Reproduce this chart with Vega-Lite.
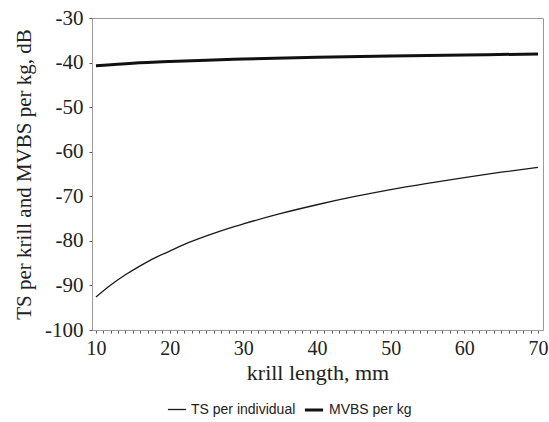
{
  "$schema": "https://vega.github.io/schema/vega-lite/v6.json",
  "autosize": "none",
  "width": 451,
  "height": 312,
  "padding": {"left": 92, "top": 18, "right": 6, "bottom": 92},
  "background": "white",
  "config": {
    "view": {"stroke": "#9a9a9a", "strokeWidth": 1},
    "font": "Liberation Serif"
  },
  "data": {
    "values": [
      {"L": 10, "v": -92.6, "s": "TS per individual"},
      {"L": 12, "v": -89.9, "s": "TS per individual"},
      {"L": 14, "v": -87.6, "s": "TS per individual"},
      {"L": 16, "v": -85.6, "s": "TS per individual"},
      {"L": 18, "v": -83.8, "s": "TS per individual"},
      {"L": 20, "v": -82.3, "s": "TS per individual"},
      {"L": 22, "v": -80.8, "s": "TS per individual"},
      {"L": 25, "v": -78.9, "s": "TS per individual"},
      {"L": 28, "v": -77.2, "s": "TS per individual"},
      {"L": 30, "v": -76.2, "s": "TS per individual"},
      {"L": 35, "v": -73.9, "s": "TS per individual"},
      {"L": 40, "v": -71.9, "s": "TS per individual"},
      {"L": 45, "v": -70.1, "s": "TS per individual"},
      {"L": 50, "v": -68.5, "s": "TS per individual"},
      {"L": 55, "v": -67.1, "s": "TS per individual"},
      {"L": 60, "v": -65.8, "s": "TS per individual"},
      {"L": 65, "v": -64.6, "s": "TS per individual"},
      {"L": 70, "v": -63.5, "s": "TS per individual"},
      {"L": 10, "v": -40.7, "s": "MVBS per kg"},
      {"L": 15, "v": -40.15, "s": "MVBS per kg"},
      {"L": 20, "v": -39.77, "s": "MVBS per kg"},
      {"L": 25, "v": -39.47, "s": "MVBS per kg"},
      {"L": 30, "v": -39.22, "s": "MVBS per kg"},
      {"L": 40, "v": -38.83, "s": "MVBS per kg"},
      {"L": 50, "v": -38.53, "s": "MVBS per kg"},
      {"L": 60, "v": -38.29, "s": "MVBS per kg"},
      {"L": 70, "v": -38.08, "s": "MVBS per kg"}
    ]
  },
  "mark": {"type": "line", "clip": true, "interpolate": "monotone"},
  "encoding": {
    "x": {
      "field": "L",
      "type": "quantitative",
      "scale": {"domain": [9.46, 70.68], "nice": false, "zero": false},
      "axis": {
        "title": "krill length, mm",
        "titleFont": "Liberation Serif",
        "titleFontSize": 22,
        "titleFontWeight": "normal",
        "titleColor": "#222",
        "titlePadding": 4,
        "values": [10,11,12,13,14,15,16,17,18,19,20,21,22,23,24,25,26,27,28,29,30,31,32,33,34,35,36,37,38,39,40,41,42,43,44,45,46,47,48,49,50,51,52,53,54,55,56,57,58,59,60,61,62,63,64,65,66,67,68,69,70],
        "labelExpr": "datum.value % 10 == 0 ? datum.label : ''",
        "labelFont": "Liberation Serif",
        "labelFontSize": 20,
        "labelColor": "#222",
        "labelPadding": 5,
        "labelOverlap": false,
        "tickSize": 3,
        "tickColor": "#555",
        "domainColor": "#9a9a9a",
        "grid": false
      }
    },
    "y": {
      "field": "v",
      "type": "quantitative",
      "scale": {"domain": [-100, -30], "nice": false, "zero": false},
      "axis": {
        "title": "TS per krill and MVBS per kg, dB",
        "titleFont": "Liberation Serif",
        "titleFontSize": 21,
        "titleFontWeight": "normal",
        "titleColor": "#222",
        "titlePadding": 10,
        "values": [-100, -90, -80, -70, -60, -50, -40, -30],
        "labelExpr": "replace(datum.label, '−', '-')",
        "labelFont": "Liberation Serif",
        "labelFontSize": 21,
        "labelColor": "#222",
        "labelPadding": 6,
        "tickSize": 3,
        "tickColor": "#555",
        "domainColor": "#9a9a9a",
        "grid": false
      }
    },
    "color": {
      "field": "s",
      "type": "nominal",
      "scale": {"domain": ["TS per individual", "MVBS per kg"], "range": ["#1a1a1a", "#111111"]},
      "legend": {
        "title": null,
        "orient": "none",
        "legendX": 75,
        "legendY": 381,
        "direction": "horizontal",
        "symbolType": "stroke",
        "symbolSize": 330,
        "labelFont": "Liberation Sans",
        "labelFontSize": 14,
        "labelColor": "#222",
        "columnPadding": 2,
        "labelOffset": 4
      }
    },
    "strokeWidth": {
      "field": "s",
      "type": "nominal",
      "scale": {"domain": ["TS per individual", "MVBS per kg"], "range": [1.3, 3]},
      "legend": null
    }
  }
}
